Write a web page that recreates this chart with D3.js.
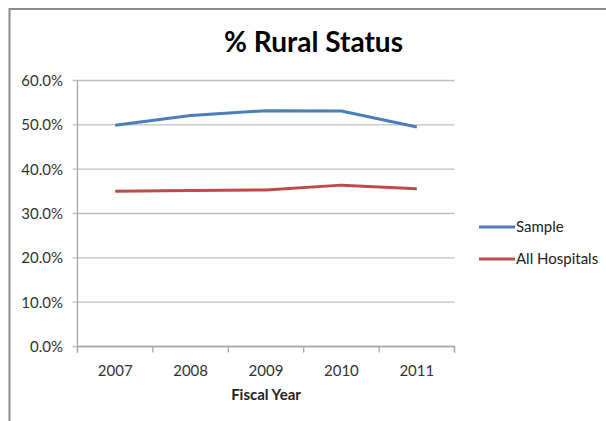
<!DOCTYPE html>
<html><head><meta charset="utf-8">
<script src="https://cdn.jsdelivr.net/npm/d3@7"></script>
<style>body{margin:0;background:#fff;} svg{display:block;}</style>
</head><body>
<script>
const years = ["2007","2008","2009","2010","2011"];
const sample = [0.499, 0.521, 0.532, 0.531, 0.495];
const allHospitals = [0.350, 0.352, 0.353, 0.364, 0.356];
const yTicks = [0, 0.1, 0.2, 0.3, 0.4, 0.5, 0.6];
const seriesNames = ["Sample", "All Hospitals"];
const colors = ["#4A7EBB", "#BE4B48"];

const W = 606, H = 421;
const svg = d3.select("body").append("svg").attr("width", W).attr("height", H);
const font = "Lato, 'Open Sans', sans-serif";

// outer frame
svg.append("line").attr("x1",9.5).attr("x2",9.5).attr("y1",8).attr("y2",H).attr("stroke","#8c8c8c").attr("stroke-width",2);
svg.append("line").attr("x1",9).attr("x2",W).attr("y1",9).attr("y2",9).attr("stroke","#8c8c8c").attr("stroke-width",2);

const x0 = 77.5, x1 = 454.5, yTop = 80.5, yBot = 346.5;
const x = d3.scaleBand().domain(years).range([x0, x1]);
const y = d3.scaleLinear().domain([0, 0.6]).range([yBot, yTop]);

// gridlines
svg.append("g").selectAll("line").data(yTicks).join("line")
  .attr("x1", x0-5).attr("x2", x1).attr("y1", d=>y(d)).attr("y2", d=>y(d))
  .attr("stroke", "#c0c0c0").attr("stroke-width", 1.3);

// y labels
svg.append("g").selectAll("text").data(yTicks).join("text")
  .attr("x", 63).attr("y", d=>y(d)).attr("dy","0.36em").attr("text-anchor","end")
  .attr("font-family", font).attr("font-size", 15).attr("fill","#333")
  .text(d3.format(".1%"));

// y axis line
svg.append("line").attr("x1",x0).attr("x2",x0).attr("y1",yTop).attr("y2",yBot)
  .attr("stroke","#a6a6a6").attr("stroke-width",1.3);

// x axis
const xAxis = d3.axisBottom(x).tickSize(6).tickFormat(d=>d);
const gx = svg.append("g").attr("transform", `translate(0,${yBot})`).call(xAxis);
gx.select(".domain").attr("stroke","#a6a6a6").attr("stroke-width",1.3).attr("d", `M${x0},6V0H${x1}V6`);
gx.selectAll(".tick line").remove();
const bounds = years.map(d=>x(d)).concat([x1]);
gx.selectAll(".btick").data(bounds).join("line").attr("class","btick")
  .attr("x1",d=>d).attr("x2",d=>d).attr("y1",0).attr("y2",6)
  .attr("stroke","#a6a6a6").attr("stroke-width",1.3);
gx.selectAll(".tick text").attr("font-family", font).attr("font-size", 15).attr("fill","#333")
  .attr("y", 29.5).attr("dy", null);

// lines
const line = d3.line().x((d,i)=>x(years[i]) + x.bandwidth()/2).y(d=>y(d));
[sample, allHospitals].forEach((s, k) => {
  svg.append("path").datum(s).attr("d", line).attr("fill","none")
    .attr("stroke", colors[k]).attr("stroke-width", 3).attr("stroke-linejoin","round");
});

// title
svg.append("text").attr("x", 313.5).attr("y", 52).attr("text-anchor","middle")
  .attr("font-family", font).attr("font-weight","bold").attr("font-size", 28).attr("fill","#000")
  .text("% Rural Status");

// x axis title
svg.append("text").attr("x", 266).attr("y", 400).attr("text-anchor","middle")
  .attr("font-family", font).attr("font-weight","bold").attr("font-size", 15).attr("fill","#222")
  .text("Fiscal Year");

// legend
const legY = [227, 259];
seriesNames.forEach((n, k) => {
  svg.append("line").attr("x1",479).attr("x2",515).attr("y1",legY[k]).attr("y2",legY[k])
    .attr("stroke", colors[k]).attr("stroke-width",3);
  svg.append("text").attr("x",516).attr("y",legY[k]).attr("dy","0.36em")
    .attr("font-family", font).attr("font-size", 15).attr("fill","#222").text(n);
});
</script>
</body></html>
